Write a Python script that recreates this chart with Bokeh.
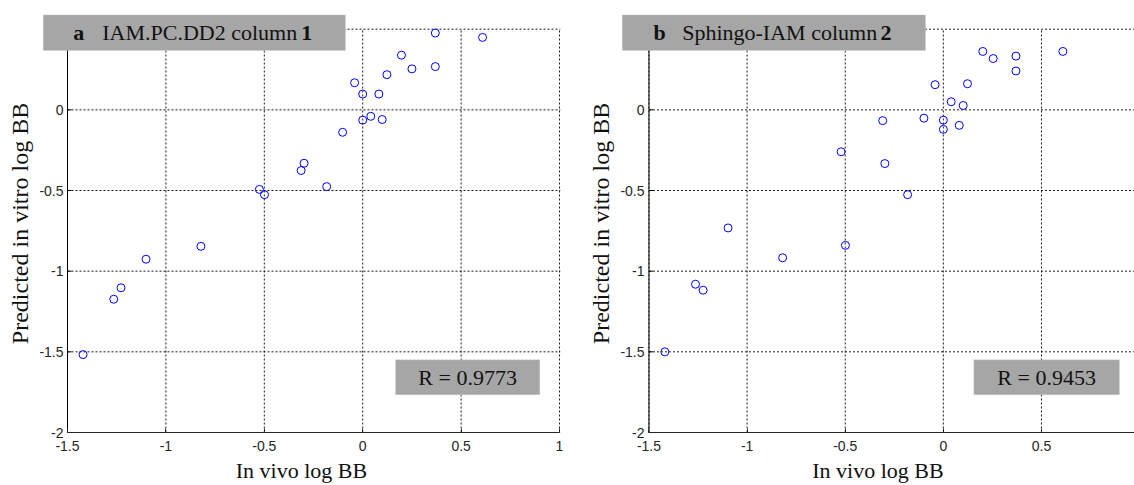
from bokeh.plotting import figure
from bokeh.layouts import row
from bokeh.models import BoxAnnotation, Label, FixedTicker
from bokeh.embed import file_html
from bokeh.resources import INLINE

# ---------------- data ----------------
in_vivo_a = [0.369, 0.609, 0.197, 0.250, 0.369, 0.123, -0.041, 0.0, 0.082, 0.0,
             0.041, 0.099, -0.102, -0.298, -0.313, -0.183, -0.525, -0.499,
             -0.822, -1.101, -1.228, -1.265, -1.421]
pred_a = [0.476, 0.449, 0.339, 0.254, 0.268, 0.218, 0.168, 0.098, 0.098, -0.064,
          -0.040, -0.060, -0.139, -0.331, -0.376, -0.476, -0.493, -0.526,
          -0.846, -0.926, -1.103, -1.174, -1.517]

in_vivo_b = [0.201, 0.254, 0.370, 0.609, 0.370, -0.042, 0.123, 0.040, 0.101, -0.309,
             -0.099, 0.0, 0.0, 0.081, -0.521, -0.298, -0.182, -1.097, -0.499,
             -0.819, -1.263, -1.224, -1.419]
pred_b = [0.362, 0.318, 0.333, 0.362, 0.241, 0.156, 0.162, 0.050, 0.027, -0.067,
          -0.052, -0.064, -0.121, -0.096, -0.260, -0.333, -0.526, -0.732, -0.840,
          -0.917, -1.081, -1.118, -1.500]

panel_letters = ["a", "b"]
panel_names = ["IAM.PC.DD2 column", "Sphingo-IAM column"]
panel_columns = ["1", "2"]
r_texts = ["R = 0.9773", "R = 0.9453"]

x_ticks_a = [-1.5, -1, -0.5, 0, 0.5, 1]
x_labels_a = ["-1.5", "-1", "-0.5", "0", "0.5", "1"]
x_ticks_b = [-1.5, -1, -0.5, 0, 0.5]
x_labels_b = ["-1.5", "-1", "-0.5", "0", "0.5"]
y_ticks = [-2, -1.5, -1, -0.5, 0, 0.5]
y_labels = ["-2", "-1.5", "-1", "-0.5", "0", ""]

x_label = "In vivo log BB"
y_label = "Predicted in vitro log BB"

SERIF = "Liberation Serif"
SANS = "Liberation Sans"
AXIS_COL = "#262626"
GRID_COL = "#1a1a1a"
BOX_FILL = "#a6a6a6"
BOX_LINE = "#d4d4d4"


def make_panel(xs, ys, xr, yr, xticks, xlabels, width, border_left, border_right,
               ylab_shift, letter, name, col, rtext, title_geom, r_geom):
    p = figure(width=width, height=485, x_range=xr, y_range=yr,
               output_backend="svg", toolbar_location=None,
               min_border_left=border_left, min_border_right=border_right,
               min_border_top=14, min_border_bottom=53,
               background_fill_color="white", border_fill_color="white")
    p.outline_line_color = None
    p.grid.visible = False

    # axes
    p.xaxis.ticker = FixedTicker(ticks=xticks)
    p.xaxis.major_label_overrides = {t: l for t, l in zip(xticks, xlabels)}
    p.xaxis.bounds = (xticks[0], 1)
    p.yaxis.ticker = FixedTicker(ticks=y_ticks)
    p.yaxis.major_label_overrides = {t: l for t, l in zip(y_ticks, y_labels)}

    for ax in (p.xaxis, p.yaxis):
        ax.axis_line_color = AXIS_COL
        ax.axis_line_width = 1
        ax.major_tick_in = 4
        ax.major_tick_out = 0
        ax.major_tick_line_color = AXIS_COL
        ax.minor_tick_line_color = None
        ax.major_label_text_font = SANS
        ax.major_label_text_font_size = "14px"
        ax.major_label_text_color = AXIS_COL
        ax.axis_label_text_font = SERIF
        ax.axis_label_text_font_style = "normal"
        ax.axis_label_text_color = "#111111"
    # the left axis sits at the frame edge; its labels are pushed right so
    # that they line up with the drawn axis line at x = -1.5
    p.yaxis.axis_line_color = None
    p.yaxis.major_tick_line_color = None
    p.yaxis.major_label_standoff = ylab_shift
    p.xaxis.axis_label_text_font_size = "22px"
    p.yaxis.axis_label_text_font_size = "24px"
    p.xaxis.major_label_standoff = 8
    p.xaxis.axis_label = x_label
    p.yaxis.axis_label = y_label
    p.xaxis.axis_label_standoff = 4
    p.yaxis.axis_label_standoff = 3

    # dotted grid, limited to the axes box
    x_top = [y_ticks[-1]] * len(xticks)
    x_bot = [y_ticks[0]] * len(xticks)
    p.segment(x0=xticks, y0=x_bot, x1=xticks, y1=x_top,
              line_color=GRID_COL, line_dash="2 2", line_width=1)
    h_left = [xticks[0]] * len(y_ticks)
    h_right = [xr[1]] * len(y_ticks)
    p.segment(x0=h_left, y0=y_ticks, x1=h_right, y1=y_ticks,
              line_color=GRID_COL, line_dash="2 2", line_width=1)
    # solid left axis line with inward ticks
    p.segment(x0=[xticks[0]], y0=[y_ticks[0]], x1=[xticks[0]], y1=[y_ticks[-1]],
              line_color="#000000", line_width=1)
    tick_len = 4.0 / 197.0
    p.segment(x0=[xticks[0]] * len(y_ticks), y0=y_ticks,
              x1=[xticks[0] + tick_len] * len(y_ticks), y1=y_ticks,
              line_color="#000000", line_width=1)

    p.scatter(xs, ys, marker="circle", size=8, fill_color=None,
              line_color="#0000ff", line_width=1)

    # title box
    tl, tr, tb, tt, ax_a, ax_name, ax_col = title_geom
    p.add_layout(BoxAnnotation(left=tl, right=tr, bottom=tb, top=tt,
                               left_units="screen", right_units="screen",
                               bottom_units="screen", top_units="screen",
                               fill_color=BOX_FILL, fill_alpha=1,
                               line_color=BOX_LINE, line_width=1))
    ym = (tb + tt) / 2
    common = dict(y=ym, x_units="screen", y_units="screen", text_font=SERIF,
                  text_font_size="22px", text_color="#111111",
                  text_baseline="middle")
    p.add_layout(Label(x=ax_a, text=letter, text_font_style="bold",
                       text_align="left", **common))
    p.add_layout(Label(x=ax_name, text=name, text_align="left", **common))
    p.add_layout(Label(x=ax_col, text=col, text_font_style="bold",
                       text_align="right", **common))

    # R box
    rl, rr, rb, rt = r_geom
    p.add_layout(BoxAnnotation(left=rl, right=rr, bottom=rb, top=rt,
                               left_units="screen", right_units="screen",
                               bottom_units="screen", top_units="screen",
                               fill_color=BOX_FILL, fill_alpha=1,
                               line_color=BOX_LINE, line_width=1))
    p.add_layout(Label(x=(rl + rr) / 2, y=(rb + rt) / 2, x_units="screen",
                       y_units="screen", text=rtext, text_font=SERIF,
                       text_font_size="22px", text_color="#111111",
                       text_align="center", text_baseline="middle"))
    return p


y_range = (-2.0, 0.591)

pa = make_panel(in_vivo_a, pred_a, (-1.627, 1.005), y_range, x_ticks_a, x_labels_a,
                580, 42, 20, -21, panel_letters[0], panel_names[0], panel_columns[0],
                r_texts[0],
                (0.7, 303, 382, 417.7, 30.7, 59.7, 269.7),
                (353, 497.3, 37.7, 72.7))
pb = make_panel(in_vivo_b, pred_b, (-1.640, 0.974), y_range, x_ticks_b, x_labels_b,
                554, 41, 0, -23, panel_letters[1], panel_names[1], panel_columns[1],
                r_texts[1],
                (0.7, 304, 382, 417.7, 32.0, 60.7, 270.0),
                (352.3, 498, 37.7, 72.7))

layout = row(pa, pb)
open("out.html", "w").write(file_html(layout, INLINE))
